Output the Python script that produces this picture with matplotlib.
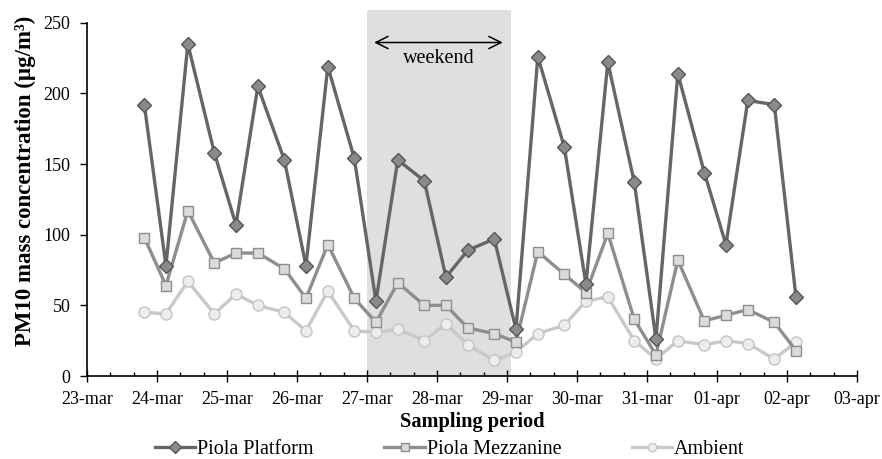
import matplotlib
matplotlib.use("Agg")
import matplotlib.pyplot as plt
import matplotlib.dates as mdates
from matplotlib.ticker import FuncFormatter
import pandas as pd

plt.rcParams['font.family'] = ['Liberation Serif', 'DejaVu Serif']

# ---- data ----
days = ["2014-03-24", "2014-03-25", "2014-03-26", "2014-03-27", "2014-03-28",
        "2014-03-29", "2014-03-30", "2014-03-31", "2014-04-01"]
times = ["2014-03-23 19:40"]
for d in days:
    times += [d + " 03:05", d + " 10:35", d + " 19:40"]
times += ["2014-04-02 03:05"]
times = pd.to_datetime(times)

platform = [192, 78, 235, 158, 107, 205, 153, 78, 219, 154, 53, 153, 138, 70, 89,
            97, 33, 226, 162, 65, 222, 137, 26, 214, 144, 93, 195, 192, 56]
mezzanine = [98, 64, 117, 80, 87, 87, 76, 55, 93, 55, 38, 66, 50, 50, 34,
             30, 24, 88, 72, 59, 101, 40, 15, 82, 39, 43, 47, 38, 18]
ambient = [45, 44, 67, 44, 58, 50, 45, 32, 60, 32, 31, 33, 25, 37, 22,
           11, 17, 30, 36, 53, 56, 25, 12, 25, 22, 25, 23, 12, 24]

weekend_start = pd.Timestamp("2014-03-27 00:00")
weekend_end = pd.Timestamp("2014-03-29 01:30")
x_start = pd.Timestamp("2014-03-23")
x_end = pd.Timestamp("2014-04-03")

# ---- figure ----
fig = plt.figure(figsize=(8.82, 4.59), dpi=100)
ax = fig.add_axes([0.0986, 0.1808, 0.8730, 0.7697])

ax.axvspan(weekend_start, weekend_end, ymin=0, ymax=1.036, color='#dedfe1',
           zorder=0, clip_on=False, lw=0)

ax.plot(times, ambient, color='#c9c9c9', lw=2.4, marker='o', ms=8,
        mfc='#ededee', mec='#c4c4c4', mew=1, label='Ambient', zorder=3)
ax.plot(times, mezzanine, color='#8e8e8e', lw=2.4, marker='s', ms=7,
        mfc='#dadbdc', mec='#8e8e8e', mew=1, label='Piola Mezzanine', zorder=4)
ax.plot(times, platform, color='#666666', lw=2.4, marker='D', ms=7.5,
        mfc='#8a8a8c', mec='#555555', mew=1, label='Piola Platform', zorder=5)

ax.set_xlim(x_start, x_end)
ax.set_ylim(0, 250)
ax.set_yticks([0, 50, 100, 150, 200, 250])

ax.xaxis.set_major_locator(mdates.DayLocator())
ax.xaxis.set_minor_locator(mdates.HourLocator(byhour=[8, 16]))
ax.xaxis.set_major_formatter(FuncFormatter(
    lambda v, p: mdates.num2date(v).strftime('%d-%b').lower()))

for s in ['top', 'right']:
    ax.spines[s].set_visible(False)
for s in ['left', 'bottom']:
    ax.spines[s].set_linewidth(1.2)
    ax.spines[s].set_color('black')

ax.tick_params(axis='x', which='major', direction='inout', length=8, width=1,
               labelsize=13, pad=7)
ax.tick_params(axis='x', which='minor', direction='in', length=3, width=1)
ax.tick_params(axis='y', which='major', direction='out', length=5, width=1,
               labelsize=13, pad=7)

ax.set_xlabel('Sampling period', fontsize=14.7, fontweight='bold', labelpad=3)
ax.set_ylabel('PM10 mass concentration (µg/m³)', fontsize=16.5,
              fontweight='bold')
ax.yaxis.set_label_coords(-0.066, 0.552)

ax.annotate('', xy=(pd.Timestamp("2014-03-27 01:30"), 236),
            xytext=(pd.Timestamp("2014-03-28 23:30"), 236),
            arrowprops=dict(arrowstyle='<->', color='black', lw=1.1,
                            mutation_scale=22), annotation_clip=False)
ax.text(pd.Timestamp("2014-03-28 00:30"), 225, 'weekend', ha='center',
        va='center', fontsize=14.5)

h, l = ax.get_legend_handles_labels()
leg = fig.legend(h[::-1], l[::-1], loc='center', bbox_to_anchor=(0.510, 0.021),
                 ncol=3, frameon=False, fontsize=14.5, handlelength=2.0,
                 columnspacing=3.5, handletextpad=0.1, markerscale=0.75,
                 borderpad=0.1)

fig.savefig('out.png', dpi=100)
